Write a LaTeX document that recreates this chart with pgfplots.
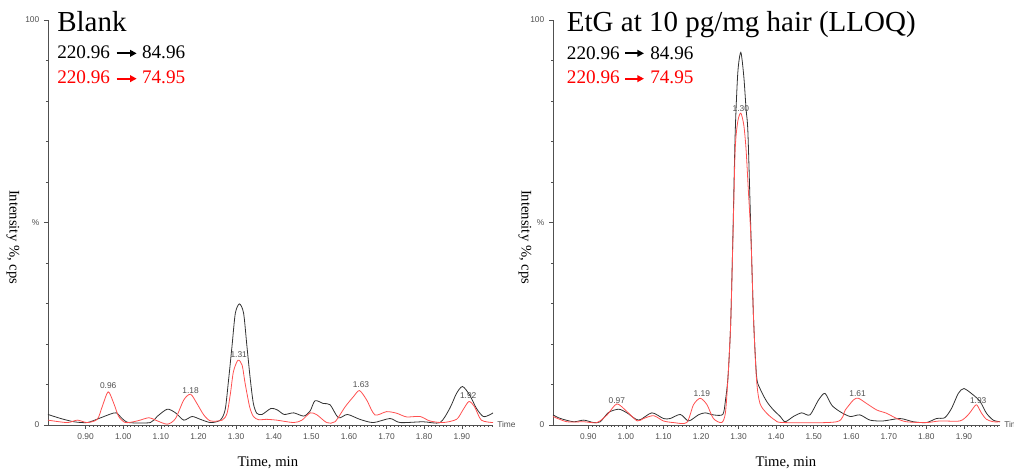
\documentclass[border=0pt]{standalone}
\usepackage{pgfplots}
\pgfplotsset{compat=1.18}
\usepackage{fontspec}
\setmainfont{Liberation Serif}
\newfontfamily\arial{Liberation Sans}
\usetikzlibrary{arrows.meta}
\definecolor{tracek}{RGB}{50,50,50}
\definecolor{tracer}{RGB}{255,80,80}
\definecolor{tickgray}{RGB}{80,80,80}

\pgfplotstableread{
t v
0.800 2.6
0.834 1.6
0.869 0.8
0.904 0.6
0.935 1.6
0.966 2.7
0.982 3.0
0.997 1.6
1.015 0.6
1.072 0.6
1.090 2.1
1.117 3.9
1.139 3.0
1.161 1.2
1.183 2.1
1.205 1.4
1.232 0.6
1.258 1.2
1.271 3.8
1.280 11.1
1.289 19.3
1.298 27.6
1.309 29.9
1.320 27.6
1.329 19.3
1.338 11.1
1.346 5.3
1.355 2.9
1.369 2.6
1.393 4.1
1.410 3.7
1.428 2.6
1.453 3.0
1.480 2.2
1.497 3.5
1.510 6.0
1.532 5.3
1.550 5.0
1.572 1.8
1.596 2.6
1.629 1.4
1.665 0.6
1.709 1.6
1.736 0.6
1.797 0.8
1.842 0.6
1.868 4.1
1.886 7.8
1.902 9.5
1.921 7.4
1.939 4.1
1.957 2.1
1.974 2.5
1.983 3.0
}\blankK

\pgfplotstableread{
t v
0.800 1.2
0.851 0.6
0.878 1.2
0.904 0.6
0.931 1.4
0.944 4.5
0.960 8.2
0.975 5.3
0.988 2.1
1.006 0.6
1.037 1.0
1.068 1.8
1.086 1.2
1.117 0.2
1.139 1.6
1.161 6.2
1.179 7.6
1.196 5.3
1.214 2.5
1.232 1.0
1.263 1.2
1.276 2.9
1.285 7.8
1.293 13.2
1.305 16.0
1.316 14.8
1.324 10.3
1.336 4.5
1.346 2.1
1.360 1.3
1.380 1.4
1.408 1.2
1.453 0.6
1.475 1.2
1.497 3.0
1.515 2.5
1.541 0.6
1.563 0.8
1.590 4.5
1.612 7.0
1.628 8.5
1.647 6.2
1.669 2.5
1.700 3.3
1.727 2.9
1.753 2.0
1.789 2.1
1.815 1.0
1.850 0.6
1.886 1.4
1.903 3.7
1.919 5.8
1.934 4.5
1.952 1.2
1.983 0.6
}\blankR

\pgfplotstableread{
t v
0.806 2.5
0.826 1.6
0.861 0.8
0.888 1.2
0.914 0.6
0.932 0.8
0.954 3.1
0.981 3.9
1.003 3.0
1.034 1.2
1.069 3.0
1.100 1.6
1.118 1.6
1.145 2.6
1.167 1.0
1.193 2.5
1.211 3.0
1.233 2.5
1.258 2.6
1.265 6
1.272 12
1.279 25
1.285 47
1.291 72
1.298 87
1.306 92
1.314 86
1.320 78
1.325 72
1.333 47
1.340 26
1.348 12
1.357 9.0
1.375 5.8
1.393 3.7
1.411 2.1
1.424 0.8
1.446 2.1
1.468 3.0
1.490 2.5
1.513 6.2
1.530 7.8
1.548 4.9
1.570 3.3
1.597 2.1
1.623 2.5
1.650 1.2
1.685 1.0
1.730 1.6
1.765 0.8
1.800 0.6
1.827 1.6
1.849 1.8
1.867 4.1
1.885 7.8
1.900 9.0
1.925 7.4
1.943 5.8
1.960 2.9
1.978 1.2
1.996 0.8
}\etgK

\pgfplotstableread{
t v
0.806 2.1
0.843 0.8
0.888 0.8
0.923 0.6
0.950 2.5
0.976 5.2
1.003 3.3
1.030 1.0
1.047 1.6
1.074 2.3
1.100 1.0
1.127 0.6
1.162 0.6
1.180 5.0
1.198 6.6
1.216 5.0
1.233 1.6
1.255 0.6
1.265 3
1.272 12
1.279 25
1.285 46
1.291 68
1.298 75
1.306 77
1.314 74
1.320 68
1.326 58
1.333 46
1.340 26
1.348 11
1.357 5.3
1.375 2.9
1.397 1.2
1.419 0.6
1.561 0.8
1.584 3.7
1.606 6.2
1.619 6.6
1.641 5.3
1.668 3.7
1.694 2.9
1.721 1.6
1.747 0.8
1.800 0.6
1.836 1.0
1.889 1.0
1.911 2.5
1.929 4.7
1.935 4.9
1.947 2.9
1.960 1.4
1.978 0.8
1.996 0.8
}\etgR

\tikzset{
  plab/.style={font=\arial\fontsize{6.3}{7}\selectfont, text=tickgray, anchor=center, inner sep=0pt},
}
\pgfplotsset{
  chrom/.style={
    scale only axis,
    anchor=south west,
    height=303.75pt,
    ymin=0, ymax=100,
    axis x line=bottom, axis y line=left,
    axis line style={-, draw=tickgray, line width=0.7pt},
    tick align=outside,
    tick style={draw=tickgray, line width=0.4pt},
    major tick length=3pt, minor tick length=1.5pt,
    xtick={0.9,1.0,...,1.95},
    minor x tick num=9,
    ytick={0,50,100}, yticklabels={0,\%,100},
    minor y tick num=4,
    ticklabel style={font=\arial\fontsize{6.3}{7}\selectfont, text=tickgray},
    /pgf/number format/assume math mode=true,
    xticklabel={\pgfmathprintnumber[fixed,fixed zerofill,precision=2,assume math mode=true]{\tick}},
    label style={font=\fontsize{11}{13}\selectfont},
    xlabel={Time, min},
    ylabel={Intensity \%, cps},
    clip=false,
    every axis plot/.append style={line width=0.6pt, smooth, tension=0.45},
  },
}

\begin{document}
\begin{tikzpicture}
% Left panel
\begin{axis}[chrom, at={(36pt,36.75pt)}, width=333.75pt, xmin=0.80, xmax=1.983,
  xlabel style={at={(axis description cs:0.494,-0.094)}, anchor=center},
  ylabel style={at={(axis description cs:-0.079,0.464)}, rotate=180, anchor=center}]
\addplot[tracek] table[x=t,y=v] {\blankK};
\addplot[tracer] table[x=t,y=v] {\blankR};
\node[plab] at (axis cs:0.960,9.7) {0.96};
\node[plab] at (axis cs:1.179,8.6) {1.18};
\node[plab] at (axis cs:1.307,17.3) {1.31};
\node[plab] at (axis cs:1.632,9.9) {1.63};
\node[plab] at (axis cs:1.917,7.2) {1.92};
\node[plab, anchor=west] at (axis description cs:1,0) {\hspace{3pt}Time};
\end{axis}
% Right panel
\begin{axis}[chrom, at={(414.75pt,36.75pt)}, width=335.25pt, xmin=0.806, xmax=1.996,
  xlabel style={at={(axis description cs:0.521,-0.094)}, anchor=center},
  ylabel style={at={(axis description cs:-0.063,0.464)}, rotate=180, anchor=center}]
\addplot[tracek] table[x=t,y=v] {\etgK};
\addplot[tracer] table[x=t,y=v] {\etgR};
\node[plab] at (axis cs:0.976,5.9) {0.97};
\node[plab] at (axis cs:1.202,7.7) {1.19};
\node[plab] at (axis cs:1.306,78.0) {1.30};
\node[plab] at (axis cs:1.617,7.7) {1.61};
\node[plab] at (axis cs:1.938,6.1) {1.93};
\node[plab, anchor=west] at (axis description cs:1,0) {\hspace{3pt}Time};
\end{axis}
% Titles and transitions
\begin{scope}[every node/.style={anchor=base west, inner sep=0pt}]
\node[font=\fontsize{21.75}{24}\selectfont] at (42.75pt,331.7pt) {Blank};
\node[font=\fontsize{14.4}{16}\selectfont] at (42.75pt,311.8pt) {220.96};
\node[font=\fontsize{14.4}{16}\selectfont] at (106.3pt,311.8pt) {84.96};
\node[font=\fontsize{14.4}{16}\selectfont, text=red] at (42.75pt,293.0pt) {220.96};
\node[font=\fontsize{14.4}{16}\selectfont, text=red] at (106.3pt,293.0pt) {74.95};
\node[font=\fontsize{21.75}{24}\selectfont] at (425pt,331.7pt) {EtG at 10 pg/mg hair (LLOQ)};
\node[font=\fontsize{14.4}{16}\selectfont] at (425pt,311.0pt) {220.96};
\node[font=\fontsize{14.4}{16}\selectfont] at (487.5pt,311.0pt) {84.96};
\node[font=\fontsize{14.4}{16}\selectfont, text=red] at (425pt,293.0pt) {220.96};
\node[font=\fontsize{14.4}{16}\selectfont, text=red] at (487.5pt,293.0pt) {74.95};
\end{scope}
\begin{scope}[line width=1.3pt, -{Triangle[length=5pt,width=5pt]}]
\draw[black] (87.5pt,315.5pt) -- (102.5pt,315.5pt);
\draw[red] (87.5pt,296.5pt) -- (102.5pt,296.5pt);
\draw[black] (468.75pt,315.5pt) -- (483pt,315.5pt);
\draw[red] (468.75pt,296.5pt) -- (483pt,296.5pt);
\end{scope}
\pgfresetboundingbox
\path[use as bounding box] (0pt,0pt) rectangle (760.5pt,355.5pt);
\end{tikzpicture}
\end{document}
